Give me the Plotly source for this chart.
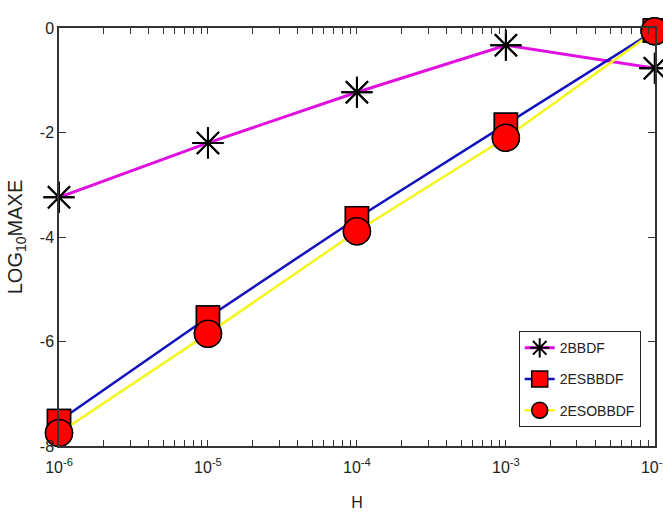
import plotly.graph_objects as go

h_values = [1e-6, 1e-5, 1e-4, 1e-3, 1e-2]
tick_labels = ["10<sup>-6</sup>", "10<sup>-5</sup>", "10<sup>-4</sup>", "10<sup>-3</sup>", "10<sup>-2</sup>"]
y_ticks = [0, -2, -4, -6, -8]
bbdf_2 = [-3.24, -2.2, -1.23, -0.33, -0.77]
esbbdf_2 = [-7.52, -5.54, -3.64, -1.85, -0.05]
esobbdf_2 = [-7.75, -5.85, -3.89, -2.1, -0.06]

FONT = "Liberation Sans, Arial, sans-serif"

x_tickvals, x_ticktext = [], []
for i, d in enumerate(h_values):
    x_tickvals.append(d)
    x_ticktext.append(tick_labels[i])
    if i < len(h_values) - 1:
        for m in range(2, 10):
            x_tickvals.append(d * m)
            x_ticktext.append("")

fig = go.Figure()

series = [
    ("2BBDF", bbdf_2, "#e010e0", 3, dict(symbol="asterisk-open", size=26, color="black",
                                        line=dict(color="black", width=2))),
    ("2ESBBDF", esbbdf_2, "#1010c0", 2.5, dict(symbol="square", size=23, color="#ff0000",
                                              line=dict(color="black", width=1.5))),
    ("2ESOBBDF", esobbdf_2, "#f5f51a", 2.5, dict(symbol="circle", size=27, color="#ff0000",
                                                line=dict(color="black", width=1.5))),
]

for name, ys, lc, lw, mk in series:
    fig.add_trace(go.Scatter(x=h_values, y=ys, name=name, legendgroup=name,
                             mode="lines+markers",
                             line=dict(color=lc, width=lw), marker=mk, cliponaxis=False))
for name, ys, lc, lw, mk in series:
    fig.add_trace(go.Scatter(x=h_values, y=ys, mode="markers", marker=mk,
                             showlegend=False, cliponaxis=False, hoverinfo="skip"))

axis_color = "#333333"
fig.update_layout(
    width=663, height=523,
    margin=dict(l=59, r=8, t=28, b=77, autoexpand=False),
    paper_bgcolor="white", plot_bgcolor="white",
    font=dict(family=FONT, color="#222", size=15),
    showlegend=True,
    legend=dict(x=0.976, y=0.045, xanchor="right", yanchor="bottom",
                bgcolor="white", bordercolor="#222", borderwidth=1,
                font=dict(size=14, family=FONT, color="#222"),
                tracegroupgap=10),
    xaxis=dict(type="log", range=[-6, -1.999], autorange=False,
               tickmode="array", tickvals=x_tickvals, ticktext=x_ticktext,
               ticks="inside", ticklen=6, tickcolor=axis_color, tickwidth=1.3, showgrid=False,
               showline=True, linecolor=axis_color, linewidth=1.5, mirror="ticks",
               zeroline=False, ticklabelstandoff=6, ticklabeloverflow="allow",
               tickangle=0, automargin=False,
               tickfont=dict(size=16, family=FONT),
               title=dict(text="H", font=dict(size=16, family=FONT), standoff=22)),
    yaxis=dict(range=[-8, 0], autorange=False, tickvals=y_ticks, ticktext=[str(v) for v in y_ticks],
               ticks="inside", ticklen=7, tickcolor=axis_color, tickwidth=1.3, showgrid=False,
               showline=True, linecolor=axis_color, linewidth=1.5, mirror="ticks",
               zeroline=False, automargin=False,
               tickfont=dict(size=16, family=FONT),
               title=dict(text="LOG<sub>10</sub>MAXE", font=dict(size=20, family=FONT), standoff=12)),
)

fig.write_html("out.html", config={"displayModeBar": False},
               post_script="document.body.style.margin='0';document.body.style.padding='0';")
